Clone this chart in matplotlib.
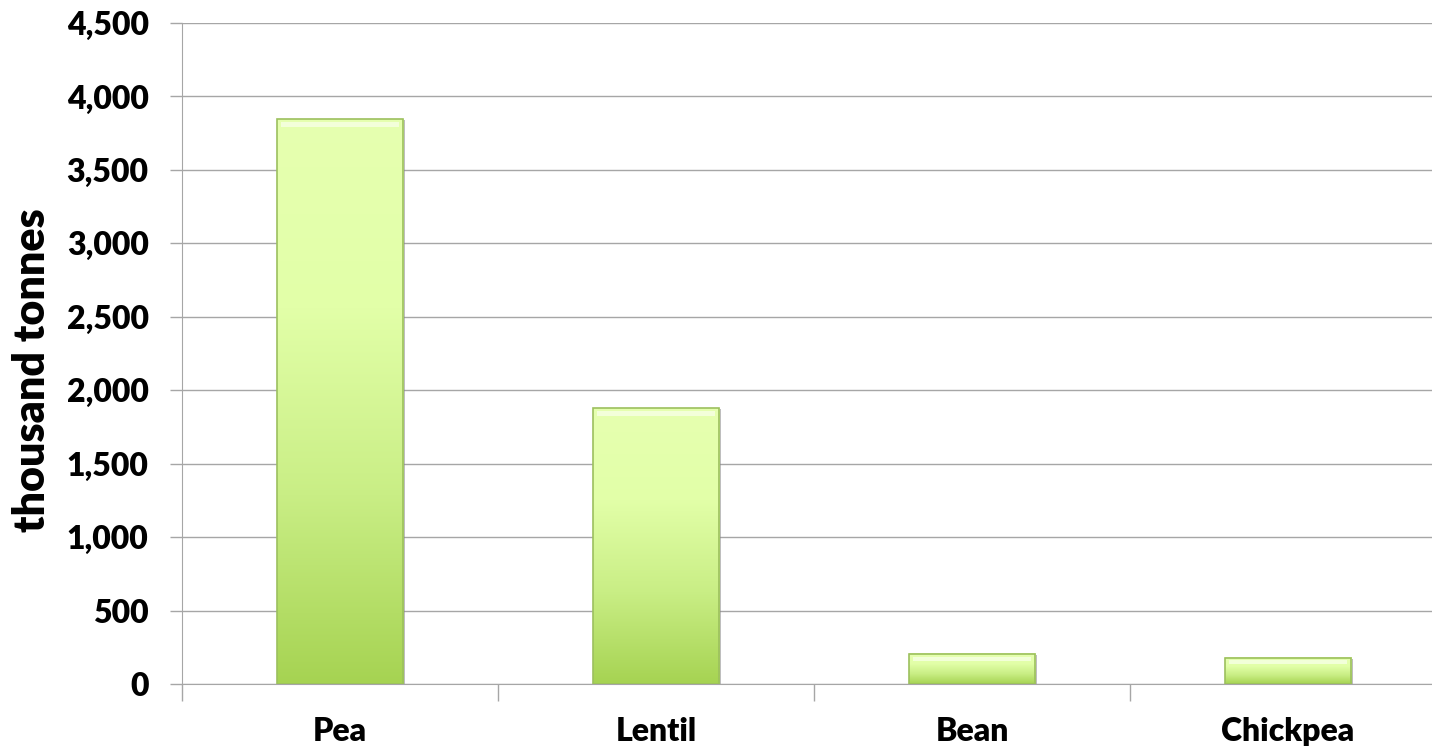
import numpy as np
import matplotlib.pyplot as plt
from matplotlib.colors import LinearSegmentedColormap
from matplotlib.ticker import FuncFormatter, MultipleLocator, FixedLocator

categories = ["Pea", "Lentil", "Bean", "Chickpea"]
values = [3845, 1878, 205, 178]

plt.rcParams['font.family'] = ['Lato', 'DejaVu Sans']

fig = plt.figure(figsize=(14.32, 7.51), dpi=100)
# axes right edge runs a little past the figure, as in the original
ax = fig.add_axes([182 / 1432, (751 - 684) / 751, 1264 / 1432, 661 / 751])

ax.set_xlim(0, len(categories))
ax.set_ylim(0, 4500)

cmap = LinearSegmentedColormap.from_list("bar", ["#a6d352", "#c9ee85", "#e2ffa8", "#e6ffb0"])
grad = np.linspace(0, 1, 256)[:, None]
bar_w = 0.4

for i, v in enumerate(values):
    x0 = i + 0.5 - bar_w / 2
    x1 = i + 0.5 + bar_w / 2
    # shadow
    ax.add_patch(plt.Rectangle((x0 + 0.005, -8), bar_w, v, facecolor="#8a8a8a",
                               alpha=0.55, edgecolor="none", zorder=2))
    ax.imshow(grad, extent=(x0, x1, 0, v), origin="lower", aspect="auto",
              cmap=cmap, vmin=0, vmax=1, zorder=3)
    ax.add_patch(plt.Rectangle((x0, 0), bar_w, v, facecolor="none",
                               edgecolor="#9cc05e", lw=1.2, zorder=4))
    # bevel highlight along top
    h = min(70, v * 0.3)
    ax.add_patch(plt.Rectangle((x0 + 0.012, v - h * 0.75), bar_w - 0.024, h * 0.45,
                               facecolor="white", alpha=0.55, edgecolor="none", zorder=4))

ax.yaxis.set_major_locator(MultipleLocator(500))
ax.yaxis.set_major_formatter(FuncFormatter(lambda y, p: f"{int(y):,}"))
ax.grid(axis="y", color="#a6a6a6", lw=1.0, zorder=0)
ax.set_axisbelow(True)

ax.xaxis.set_major_locator(FixedLocator(range(len(categories) + 1)))
ax.xaxis.set_major_formatter(FuncFormatter(lambda x, p: ""))
ax.xaxis.set_minor_locator(FixedLocator([i + 0.5 for i in range(len(categories))]))
ax.set_xticklabels(categories, minor=True)
ax.tick_params(axis="x", which="major", length=12, color="#a6a6a6", width=1)
ax.tick_params(axis="x", which="minor", length=0, pad=24, labelsize=23)
ax.tick_params(axis="y", length=9, color="#a6a6a6", width=1, labelsize=23, pad=15)
for lbl in ax.get_xticklabels(minor=True) + ax.get_yticklabels():
    lbl.set_fontweight("heavy")

for s in ["top", "right"]:
    ax.spines[s].set_visible(False)
ax.spines["left"].set_color("#a6a6a6")
ax.spines["bottom"].set_color("#a6a6a6")

ax.set_ylabel("thousand tonnes", fontsize=31, fontweight="heavy", va="center")
ax.yaxis.set_label_coords(32 / 1432, (751 - 370) / 751, transform=fig.transFigure)

fig.savefig("out.png", dpi=100)
